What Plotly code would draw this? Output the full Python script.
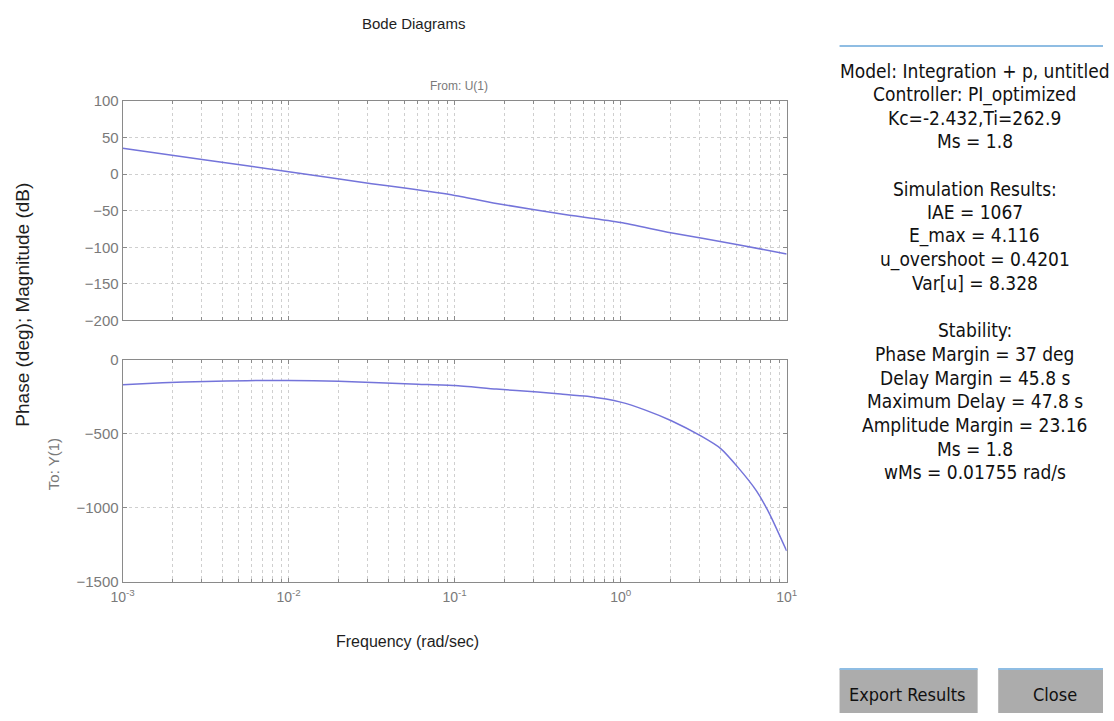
import plotly.graph_objects as go

# ---- data ----
w_mag = [0.001, 0.00316, 0.01, 0.0316, 0.05, 0.1, 0.19, 0.44, 1.0, 2.0, 5.0, 10.0]
mag_db = [35.5, 19.5, 3.5, -13, -19, -29, -41, -54.5, -66, -80, -96, -109]

w_phase = [0.001, 0.00174, 0.00316, 0.00562, 0.01, 0.02, 0.035, 0.06, 0.1, 0.178,
           0.316, 0.436, 0.63, 1.0, 1.41, 2.02, 3.04, 3.99, 5.12, 6.56, 7.87, 10.0]
phase_deg = [-168, -155, -146, -141, -139, -145, -155, -165, -174, -198,
             -218, -231, -247, -286, -340, -412, -515, -599, -731, -885, -1040, -1293]

x_tickvals = [0.001, 0.01, 0.1, 1, 10]
x_ticktext = ["10<sup>-3</sup>", "10<sup>-2</sup>", "10<sup>-1</sup>", "10<sup>0</sup>", "10<sup>1</sup>"]
mag_ticks = [100, 50, 0, -50, -100, -150, -200]
phase_ticks = [0, -500, -1000, -1500]

info_lines = [
    "Model: Integration + p, untitled",
    "Controller: PI_optimized",
    "Kc=-2.432,Ti=262.9",
    "Ms = 1.8",
    "",
    "Simulation Results:",
    "IAE = 1067",
    "E_max = 4.116",
    "u_overshoot = 0.4201",
    "Var[u] = 8.328",
    "",
    "Stability:",
    "Phase Margin = 37 deg",
    "Delay Margin = 45.8 s",
    "Maximum Delay = 47.8 s",
    "Amplitude Margin = 23.16",
    "Ms = 1.8",
    "wMs = 0.01755 rad/s",
]

W, H = 1114, 721
def px(x):
    return x / W
def py(y):
    return 1 - y / H

LINE = "#7474da"
GRID = "#cfcfcf"
AXC = "#8a8a8a"
TXT = "#7a7a7a"
NARROW = "Liberation Sans Narrow, DejaVu Sans Condensed, Arial Narrow, sans-serif"
SANS = "Liberation Sans, Arial, sans-serif"

fig = go.Figure()
fig.add_trace(go.Scatter(x=w_mag, y=mag_db, mode="lines", line=dict(color=LINE, width=1.5, shape="spline", smoothing=0.6),
                         xaxis="x", yaxis="y", showlegend=False, hoverinfo="skip"))
fig.add_trace(go.Scatter(x=w_phase, y=phase_deg, mode="lines", line=dict(color=LINE, width=1.5, shape="spline", smoothing=0.6),
                         xaxis="x2", yaxis="y2", showlegend=False, hoverinfo="skip"))

xcommon = dict(type="log", range=[-3, 1], tickvals=x_tickvals, showline=True, linecolor=AXC, linewidth=1,
               mirror="allticks", ticks="inside", ticklen=4, tickcolor=AXC,
               showgrid=True, gridcolor=GRID, griddash="dot", gridwidth=1, zeroline=False,
               minor=dict(dtick="D1", showgrid=True, gridcolor=GRID, griddash="dot", ticks="inside", ticklen=3, tickcolor=AXC),
               domain=[px(113), px(791)])
ycommon = dict(showline=True, linecolor=AXC, linewidth=1, mirror="ticks", ticks="inside", ticklen=4, tickcolor=AXC,
               showgrid=True, gridcolor=GRID, griddash="dot", gridwidth=1, zeroline=False,
               tickfont=dict(family=SANS, size=15, color=TXT))

fig.update_layout(
    width=W, height=H, margin=dict(l=0, r=0, t=0, b=0),
    paper_bgcolor="white", plot_bgcolor="white",
    xaxis=dict(xcommon, anchor="y", showticklabels=False),
    yaxis=dict(ycommon, anchor="x", range=[-200, 100], tickvals=mag_ticks, domain=[py(319), py(94.3)]),
    xaxis2=dict(xcommon, anchor="y2", showticklabels=True, ticktext=x_ticktext, ticklabelstandoff=3,
                tickfont=dict(family=SANS, size=14, color=TXT)),
    yaxis2=dict(ycommon, anchor="x2", range=[-1500, 0], tickvals=phase_ticks, domain=[py(586.4), py(359.3)]),
)

ann = []
ann.append(dict(text="Bode Diagrams", x=px(410), y=py(15), font=dict(family=SANS, size=15, color="#1e1e1e")))
ann.append(dict(text="From: U(1)", x=px(456), y=py(79), font=dict(family=SANS, size=12, color=TXT)))
ann.append(dict(text="Phase (deg); Magnitude (dB)", x=px(11), y=py(303), textangle=-90,
                font=dict(family=SANS, size=19, color="#1e1e1e")))
ann.append(dict(text="To: Y(1)", x=px(42), y=py(466), textangle=-90, font=dict(family=SANS, size=15, color=TXT)))
ann.append(dict(text="Frequency (rad/sec)", x=px(404), y=py(648), font=dict(family=SANS, size=16, color="#1e1e1e")))

y0, dy = 63, 24.2
for i, line in enumerate(info_lines):
    if line:
        ann.append(dict(text=line, x=px(983), y=py(y0 + i * dy),
                        font=dict(family=NARROW, size=19, color="#111111")))

ann.append(dict(text="Export Results", x=px(914), y=py(702), font=dict(family=NARROW, size=18, color="#111111")))
ann.append(dict(text="Close", x=px(1065), y=py(702), font=dict(family=NARROW, size=18, color="#111111")))

for a in ann:
    a.update(xref="paper", yref="paper", xanchor="center", yanchor="middle", showarrow=False)
fig.update_layout(annotations=ann)

shapes = [
    dict(type="line", xref="paper", yref="paper", x0=px(845), x1=1, y0=py(38), y1=py(38),
         line=dict(color="#8fbde3", width=2)),
    dict(type="rect", xref="paper", yref="paper", x0=px(845), x1=px(986), y0=0, y1=py(676),
         fillcolor="#acacac", line=dict(width=0)),
    dict(type="line", xref="paper", yref="paper", x0=px(845), x1=px(986), y0=py(676), y1=py(676),
         line=dict(color="#8fbde3", width=2)),
    dict(type="rect", xref="paper", yref="paper", x0=px(1007), x1=1, y0=0, y1=py(676),
         fillcolor="#acacac", line=dict(width=0)),
    dict(type="line", xref="paper", yref="paper", x0=px(1007), x1=1, y0=py(676), y1=py(676),
         line=dict(color="#8fbde3", width=2)),
]
fig.update_layout(shapes=shapes)

fig.write_html("out.html")
